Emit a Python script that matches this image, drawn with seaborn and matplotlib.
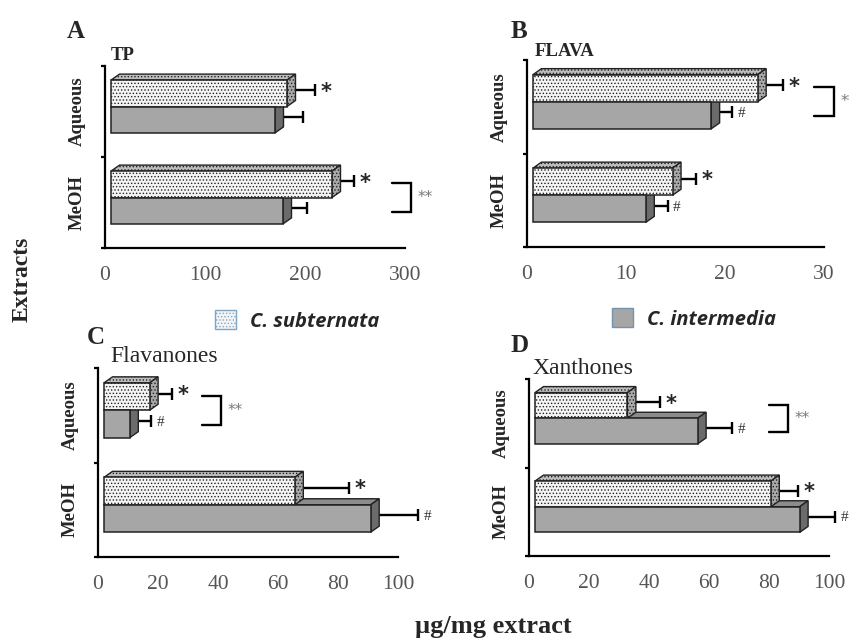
import numpy as np
import pandas as pd
import seaborn as sns
import matplotlib.pyplot as plt
from matplotlib.patches import Polygon, Patch

sns.set_theme(style='white')
plt.rcParams['font.family'] = ['Liberation Serif', 'DejaVu Serif']
plt.rcParams['hatch.linewidth'] = 0.6

###----- Data -----###
extracts = ['Aqueous', 'MeOH']
species = ['C. subternata', 'C. intermedia']

# total polyphenols (TP)
tp_sub = [182, 227]
tp_int = [170, 178]
tp_sub_err = [28, 22]
tp_int_err = [28, 24]
tp_marks_sub = ['*', '*']
tp_marks_int = ['', '']

# flavonols (FLAVA)
flava_sub = [23.3, 14.7]
flava_int = [18.6, 12.0]
flava_sub_err = [2.6, 2.4]
flava_int_err = [2.1, 2.2]
flava_marks_sub = ['*', '*']
flava_marks_int = ['#', '#']

# flavanones
flavan_sub = [17.2, 65.6]
flavan_int = [10.6, 90.9]
flavan_sub_err = [7.3, 18.1]
flavan_int_err = [7.2, 15.8]
flavan_marks_sub = ['*', '*']
flavan_marks_int = ['#', '#']

# xanthones
xan_sub = [32.8, 80.6]
xan_int = [56.2, 90.2]
xan_sub_err = [10.9, 9.2]
xan_int_err = [11.4, 11.7]
xan_marks_sub = ['*', '*']
xan_marks_int = ['#', '#']

###----- Style -----###
W, H = 849, 644
c_sub = ['#f4f4f4', '#a9a9a9', '#bdbdbd']   # front, side, top
c_int = ['#a6a6a6', '#6b6b6b', '#8c8c8c']
DX_PX, DY_PX = 8.5, 6      # depth of the 3D faces
SHIFT_PX = 5
EDGE = '#222222'

fig = plt.figure(figsize=(W / 100, H / 100), dpi=100)


def add_box(l, t, r, b):
    return fig.add_axes([l / W, 1 - b / H, (r - l) / W, (b - t) / H])


def draw_panel(ax, sub, inter, sub_err, int_err, mark_sub, mark_int, xmax, step,
               bracket_cat=None, bracket_x=None):
    df = pd.DataFrame({'Extract': extracts * 2,
                       'Species': [species[0]] * 2 + [species[1]] * 2,
                       'value': list(sub) + list(inter)})
    sns.barplot(data=df, x='value', y='Extract', hue='Species', orient='h',
                palette=[c_sub[0], c_int[0]], width=0.58, saturation=1,
                edgecolor=EDGE, linewidth=1.1, errorbar=None, legend=False, ax=ax)
    ax.set_xlim(0, xmax)
    ax.set_ylim(1.5, -0.5)
    bbox = ax.get_position()
    w_px, h_px = bbox.width * W, bbox.height * H
    dx = DX_PX * xmax / w_px
    dy = DY_PX * 2 / h_px
    shift = SHIFT_PX * 2 / h_px
    x_off = 6 * xmax / w_px

    errs = [sub_err, int_err]
    marks = [mark_sub, mark_int]
    looks = [(c_sub, 0.6, '.....'), (c_int, 0.5, None)]
    centers = []
    bar_groups = list(ax.containers)
    for k, cont in enumerate(bar_groups):
        cols, z, hatch = looks[k]
        vals, ys, mids = [], [], []
        for p in cont:
            p.set_y(p.get_y() - shift)
            x1 = p.get_width()
            p.set_x(x_off)
            p.set_width(x1 - x_off)
            p.set_zorder(1)
            if hatch:
                p.set_hatch(hatch)
            x0 = x_off
            yt, yb = p.get_y(), p.get_y() + p.get_height()
            top = Polygon([(x0, yt), (x0 + dx, yt - dy), (x1 + dx, yt - dy), (x1, yt)],
                          closed=True, facecolor=cols[2], edgecolor=EDGE, lw=1.0,
                          hatch=hatch, zorder=z)
            side = Polygon([(x1, yt), (x1 + dx, yt - dy), (x1 + dx, yb - dy), (x1, yb)],
                           closed=True, facecolor=cols[1], edgecolor=EDGE, lw=1.0,
                           hatch=hatch, zorder=z)
            ax.add_patch(top)
            ax.add_patch(side)
            vals.append(x1)
            ys.append((yt + yb) / 2 - dy / 2)
            mids.append((yt + yb) / 2)
        centers.append(mids)
        eb = ax.errorbar(x=vals, y=ys, xerr=[np.zeros(len(vals)), errs[k]], fmt='none',
                         ecolor='black', elinewidth=1.7, capsize=4, capthick=1.7,
                         zorder=0.4)
        for art in eb.get_children():
            art.set_clip_on(False)
        for j, m in enumerate(marks[k]):
            if not m:
                continue
            if m == '*':
                kw = dict(fontsize=15, fontweight='bold', family=['DejaVu Sans'])
            else:
                kw = dict(fontsize=11, family=['Liberation Serif'], color='#333333')
            ax.annotate(m, (vals[j] + errs[k][j], ys[j]), xytext=(4, -1),
                        textcoords='offset points', ha='left', va='center',
                        annotation_clip=False, **kw)

    if bracket_cat is not None:
        y_a = centers[0][bracket_cat] - 0.01
        y_b = centers[1][bracket_cat] + 0.01
        bx0, bx1 = bracket_x
        ax.plot([bx0, bx1, bx1, bx0], [y_a, y_a, y_b, y_b], color='black', lw=1.7,
                clip_on=False, solid_joinstyle='miter')
        ax.annotate('**', (bx1, (y_a + y_b) / 2), xytext=(5, 0), textcoords='offset points',
                    ha='left', va='center', fontsize=11, color='#777777',
                    family=['DejaVu Sans'], annotation_clip=False)

    # axes look
    ax.set_facecolor('none')
    for s in ['top', 'right']:
        ax.spines[s].set_visible(False)
    for s in ['left', 'bottom']:
        ax.spines[s].set_linewidth(1.6)
        ax.spines[s].set_color('black')
    ax.set_xticks(np.arange(0, xmax + step / 2, step))
    ax.tick_params(axis='x', direction='in', length=7, width=1.6, color='black',
                   labelsize=15.5, labelcolor='#555555', pad=13)
    ax.set_yticks([-0.5, 0.5, 1.5])
    ax.set_yticklabels([])
    ax.tick_params(axis='y', which='major', direction='out', length=3, width=1.6,
                   color='black', left=True)
    ax.set_yticks([0, 1], extracts, minor=True)
    ax.tick_params(axis='y', which='minor', length=0, pad=14, labelsize=13.5, left=True)
    for t in ax.get_yticklabels(minor=True):
        t.set_rotation(90)
        t.set_va('center')
        t.set_fontweight('bold')
    ax.set_xlabel('')
    ax.set_ylabel('')


ax_a = add_box(105, 66, 405, 248)
ax_b = add_box(527, 60, 824, 247)
ax_c = add_box(98, 368, 398, 557)
ax_d = add_box(529, 379, 829, 556)

draw_panel(ax_a, tp_sub, tp_int, tp_sub_err, tp_int_err, tp_marks_sub, tp_marks_int,
           300, 100, bracket_cat=1, bracket_x=(287, 306))
draw_panel(ax_b, flava_sub, flava_int, flava_sub_err, flava_int_err, flava_marks_sub,
           flava_marks_int, 30, 10, bracket_cat=0, bracket_x=(29.0, 31.0))
draw_panel(ax_c, flavan_sub, flavan_int, flavan_sub_err, flavan_int_err, flavan_marks_sub,
           flavan_marks_int, 100, 20, bracket_cat=0, bracket_x=(34.5, 41.0))
draw_panel(ax_d, xan_sub, xan_int, xan_sub_err, xan_int_err, xan_marks_sub,
           xan_marks_int, 100, 20, bracket_cat=0, bracket_x=(80, 86.3))

# panel letters and titles
def ftext(x, y, s, **kw):
    fig.text(x / W, 1 - y / H, s, ha='left', va='center', **kw)

ftext(67, 31, 'A', fontsize=18, fontweight='bold')
ftext(111, 55, 'TP', fontsize=13.5, fontweight='bold')
ftext(511, 31, 'B', fontsize=18, fontweight='bold')
ftext(535, 51, 'FLAVA', fontsize=13.5, fontweight='bold')
ftext(87, 337, 'C', fontsize=18, fontweight='bold')
ftext(110, 357, 'Flavanones', fontsize=17)
ftext(510, 345, 'D', fontsize=18, fontweight='bold')
ftext(532, 368, 'Xanthones', fontsize=17)

fig.text(22 / W, 1 - 279 / H, 'Extracts', rotation=90, ha='center', va='center',
         fontsize=17, fontweight='bold')
fig.text(493 / W, 1 - 627 / H, 'µg/mg extract', ha='center', va='center',
         fontsize=19, fontweight='bold')

# split legend
leg_font = dict(family=['Open Sans', 'DejaVu Sans'], style='italic', weight='bold', size=14.5)
h_sub = Patch(facecolor=c_sub[0], edgecolor='#7fa6c8', hatch='.....', lw=1)
h_int = Patch(facecolor=c_int[0], edgecolor='#7392b0', lw=1)
fig.legend(handles=[h_sub], labels=[species[0]], loc='center left',
           bbox_to_anchor=(215 / W, 1 - 321 / H), frameon=False, borderpad=0,
           borderaxespad=0, handlelength=1.05, handleheight=1.05,
           handletextpad=0.7, prop=leg_font)
fig.legend(handles=[h_int], labels=[species[1]], loc='center left',
           bbox_to_anchor=(612 / W, 1 - 319 / H), frameon=False, borderpad=0,
           borderaxespad=0, handlelength=1.05, handleheight=1.05,
           handletextpad=0.7, prop=leg_font)

plt.savefig('out.png', dpi=100)
